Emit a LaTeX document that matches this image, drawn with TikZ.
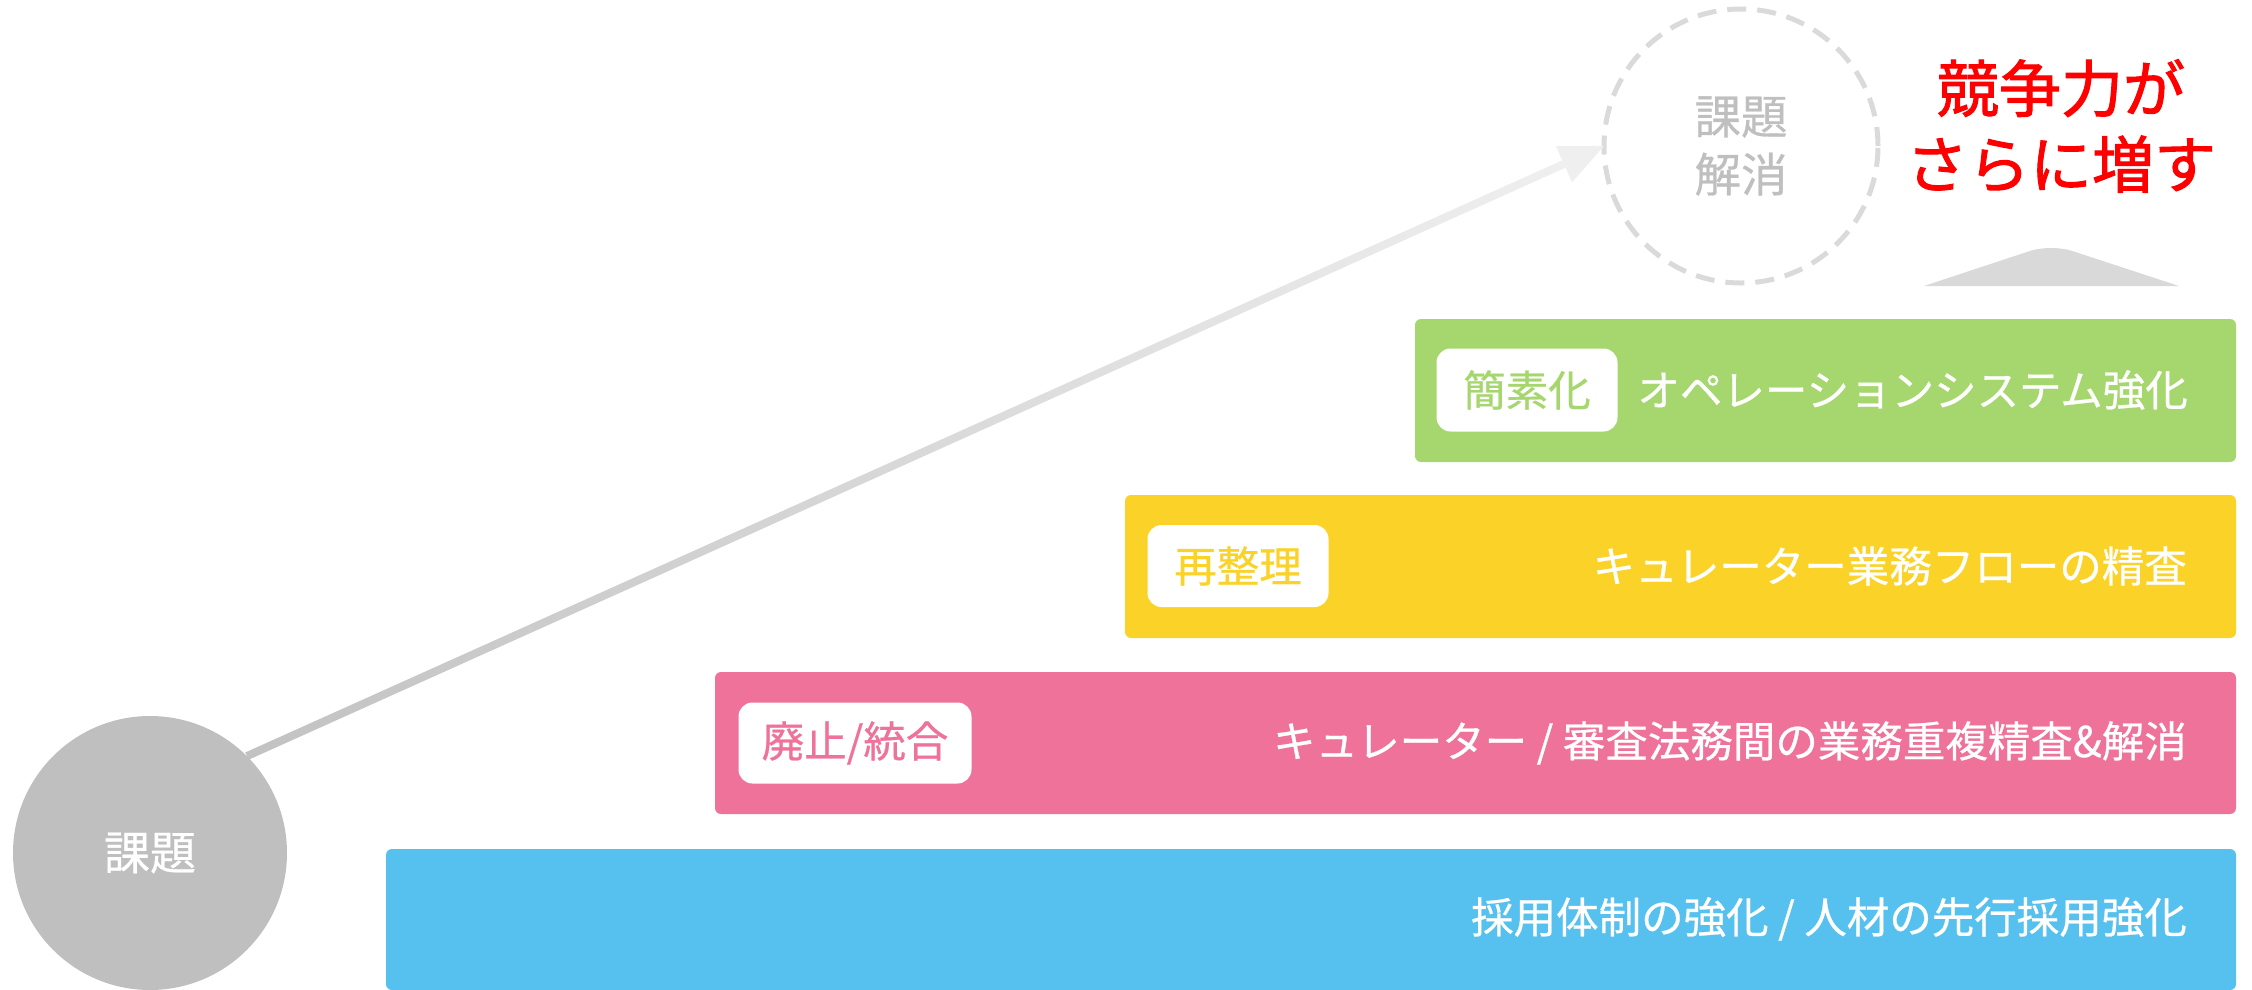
\documentclass[tikz,border=0pt]{standalone}
\usepackage{fontspec}
\setmainfont{Noto Sans CJK JP}[FakeBold=0.6]
\newfontfamily\redfont{Noto Sans CJK JP}[FakeBold=1.6]
\usetikzlibrary{calc,backgrounds}
\definecolor{cgreen}{HTML}{A5D76E}
\definecolor{cyellow}{HTML}{FBD328}
\definecolor{cpink}{HTML}{EE7299}
\definecolor{cblue}{HTML}{56C1EF}
\definecolor{cgray}{HTML}{BFBFBF}
\definecolor{cdash}{HTML}{DADADA}
\definecolor{ctri}{HTML}{D9D9D9}
\definecolor{cdark}{HTML}{C2C2C2}
\definecolor{clight}{HTML}{EFEFEF}
\definecolor{cred}{HTML}{FF0000}
\newcommand\fsz[2]{\fontsize{#1}{#2}\selectfont}
\begin{document}
\begin{tikzpicture}[x=1pt,y=-1pt,
  bar/.style={rectangle, rounded corners=6pt, inner sep=0pt, outer sep=0pt, anchor=north west},
  pill/.style={rectangle, fill=white, rounded corners=14pt, inner sep=0pt, outer sep=0pt, font=\fsz{42.5}{50}},
  btext/.style={text=white, inner sep=0pt, anchor=east, font=\fsz{42.5}{50}},
]
\useasboundingbox (0,0) rectangle (2252,989);

% bars
\node[bar, fill=cblue, minimum width=1850pt, minimum height=141pt] (barblue) at (386,849) {};
\node[bar, fill=cpink, minimum width=1521pt, minimum height=142pt] (barpink) at (715,672) {};
\node[bar, fill=cyellow, minimum width=1111pt, minimum height=143pt] (baryellow) at (1125,495) {};
\node[bar, fill=cgreen, minimum width=821pt, minimum height=143pt] (bargreen) at (1415,319) {};

% pills
\node[pill, text=cgreen, minimum width=181pt, minimum height=83pt] (pillgreen) at (1527,390) {簡素化};
\node[pill, text=cyellow, minimum width=181pt, minimum height=82pt] (pillyellow) at (1238,566) {再整理};
\node[pill, text=cpink, minimum width=233pt, minimum height=81pt] (pillpink) at (855,743) {廃止/統合};

% bar texts
\node[btext] (tgreen) at (2188,390) {オペレーションシステム強化};
\node[btext] (tyellow) at (2187,566) {キュレーター業務フローの精査};
\node[btext] (tpink) at (2187,743) {キュレーター / 審査法務間の業務重複精査\&解消};
\node[btext] (tblue) at (2187,919) {採用体制の強化 / 人材の先行採用強化};

% circles
\node[circle, fill=cgray, minimum size=274pt, inner sep=0pt, outer sep=0pt, text=white, font=\fsz{46}{56}] (issue) at (150,853) {課題};
\node[circle, draw=cdash, line width=5pt, dash pattern=on 19pt off 11pt, minimum size=274pt, inner sep=0pt, outer sep=0pt, text=cgray, align=center, font=\fsz{46.5}{58}] (solved) at (1741,146) {課題\\解消};

% arrow
\coordinate (A) at (issue.45);
\coordinate (B) at (solved.west);
\coordinate (C) at ($(B)!44pt!(A)$);
\begin{pgfonlayer}{background}
\shade[left color=cdark, right color=clight] ($(A)!4pt!90:(C)$) -- ($(A)!4pt!-90:(C)$) -- ($(C)!4pt!90:(A)$) -- ($(C)!4pt!-90:(A)$) -- cycle;
\end{pgfonlayer}
\fill[clight] (B) -- ($(C)!20pt!90:(A)$) -- ($(C)!20pt!-90:(A)$) -- cycle;

% red text
\node[text=cred, align=center, inner sep=0pt, font=\redfont\fsz{62}{76}] (gain) at (2061,126) {競争力が\\さらに増す};

% triangle
\fill[ctri] (1924,286) [rounded corners=22pt] -- (2051,244) [sharp corners] -- (2179,286) -- cycle;
\end{tikzpicture}
\end{document}
